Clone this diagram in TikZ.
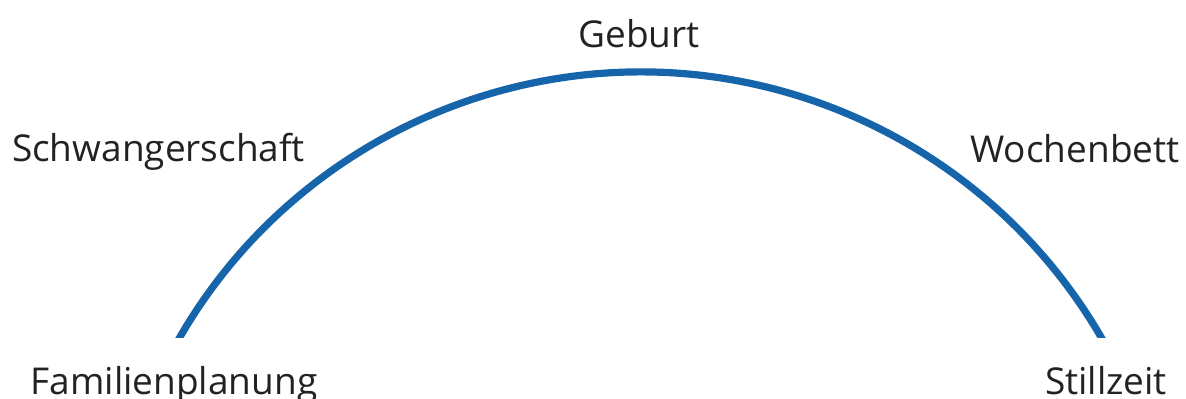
\documentclass[tikz,border=0pt]{standalone}
\usepackage{fontspec}
\setmainfont{Open Sans}
\definecolor{arcblue}{RGB}{22,100,170}
\definecolor{txt}{RGB}{34,34,34}
\begin{document}
\begin{tikzpicture}[x=0.5pt,y=-0.5pt,
  lbl/.style={anchor=base,inner sep=0pt,text=txt,font=\fontsize{18.5pt}{21pt}\selectfont}]
\useasboundingbox (0,0) rectangle (1186,398);
\coordinate (c) at (640.5,604.6);
\begin{scope}
  \clip (0,0) rectangle (1186,337);
  \draw[arcblue,line width=3.6pt] (c) ++(205:532.6) arc[start angle=205,end angle=335,radius=532.6];
\end{scope}
\node[lbl] (geburt) at (639,47) {Geburt};
\node[lbl] (schw) at (158.5,161) {Schwangerschaft};
\node[lbl] (woch) at (1075,162) {Wochenbett};
\node[lbl] (fam) at (174,394) {Familienplanung};
\node[lbl] (still) at (1106,394) {Stillzeit};
\end{tikzpicture}
\end{document}
